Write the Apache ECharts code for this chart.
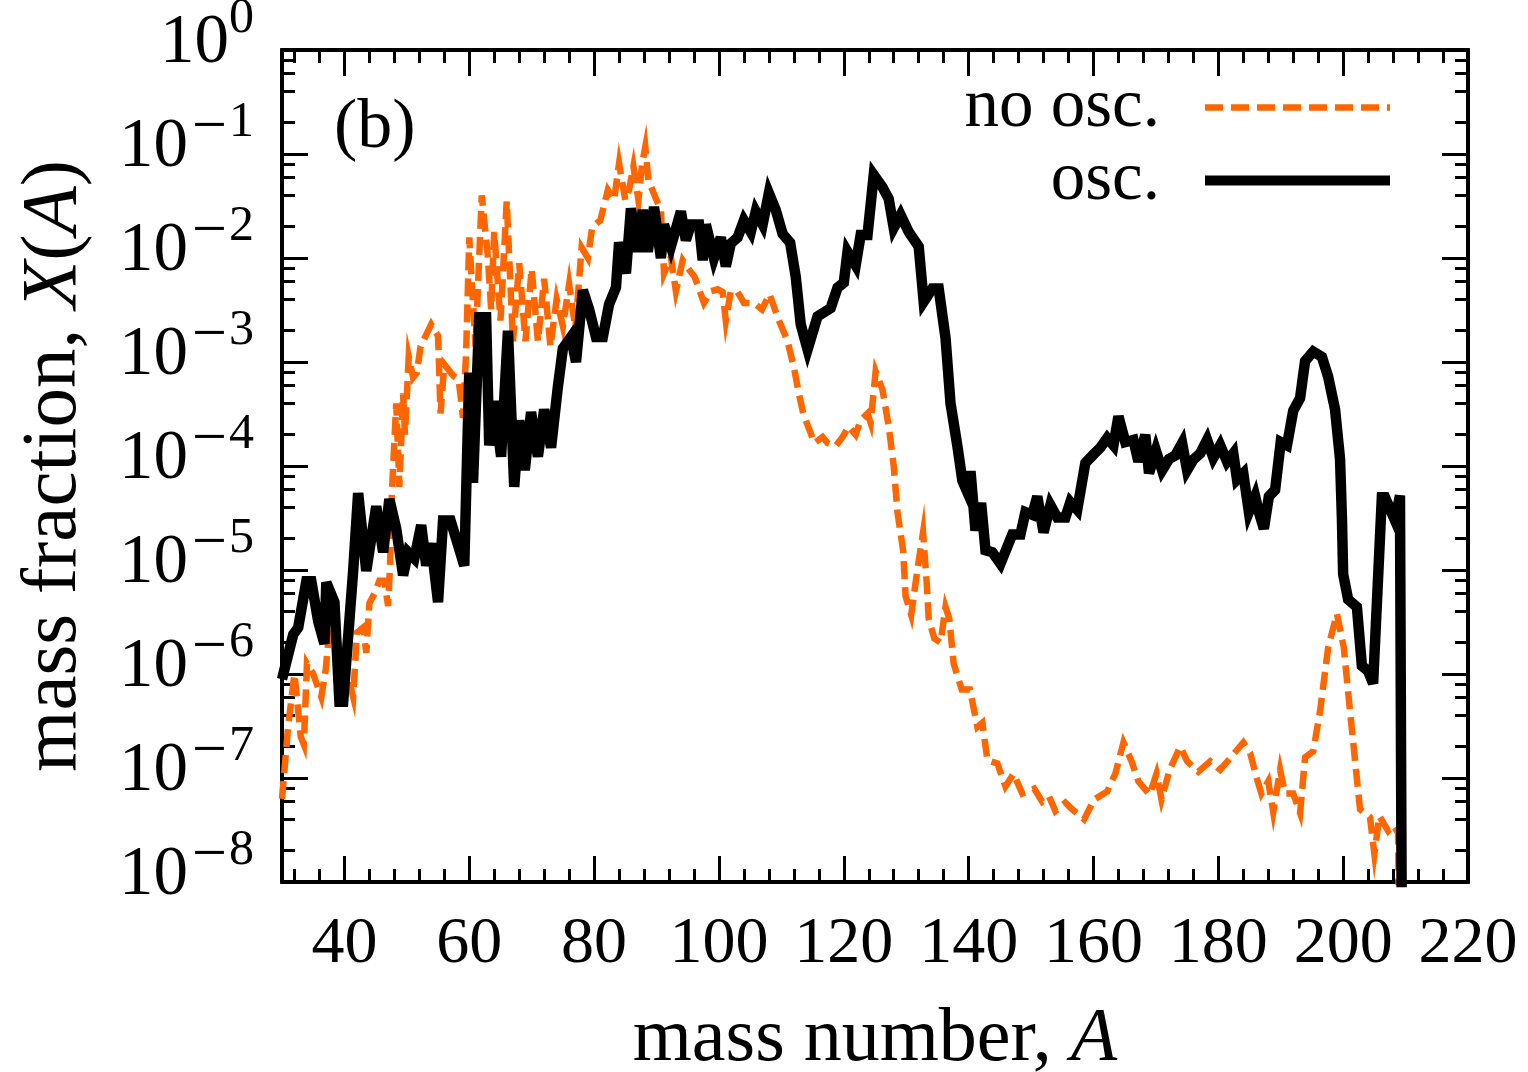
<!DOCTYPE html>
<head>
    <meta charset="utf-8">
    <title>mass fraction</title>
</head>
<body style="margin:0">
    <div id="main" style="width:1528px;height:1072px"></div>
    <script src="https://cdn.jsdelivr.net/npm/echarts@6/dist/echarts.min.js"></script>
    <script type="text/javascript">

        // [mass number A, mass fraction X(A)]
        const NO_OSC = [
            [30, 6.3e-8], [31, 3.2e-7], [32, 1.0e-6], [33, 2.5e-7], [33.5, 2.1e-7], [34, 1.26e-6], [35, 1.0e-6],
            [36.3, 6.0e-7], [37, 1.1e-6], [38, 5.0e-6], [39.5, 1.26e-6], [40.6, 9.3e-7], [41.4, 6.0e-7],
            [42, 2.5e-6], [43, 2.8e-6], [43.5, 1.6e-6], [44, 4.8e-6], [44.8, 5.9e-6], [45.6, 7.9e-6],
            [46.4, 7.9e-6], [47, 4.5e-6], [47.3, 1.07e-5], [47.6, 5.5e-5], [48.3, 4.0e-4], [48.8, 6.3e-5],
            [49.4, 5.0e-4], [49.7, 2.0e-4], [50.3, 1.12e-3], [51, 7.1e-4], [51.6, 7.9e-4], [52.2, 1.41e-3],
            [53.9, 2.3e-3], [55, 1.78e-3], [55.4, 3.2e-4], [56, 9.5e-4], [57.4, 7.4e-4], [58.3, 6.8e-4],
            [59, 2.9e-4], [59.5, 1.26e-3], [60, 1.58e-2], [61, 1.41e-3], [62, 4.0e-2], [63, 1.0e-2],
            [63.5, 3.2e-3], [64, 1.78e-2], [65, 2.5e-3], [66, 3.5e-2], [67, 1.58e-3], [68, 8.9e-3],
            [69, 1.58e-3], [70, 7.9e-3], [71, 1.58e-3], [72, 6.3e-3], [73, 1.41e-3], [74, 4.0e-3],
            [75, 2.2e-3], [76, 5.6e-3], [77, 2.1e-3], [78, 1.26e-2], [79, 1.0e-2], [79.7, 2.0e-2],
            [81, 2.3e-2], [82.2, 4.5e-2], [83.2, 3.6e-2], [84, 8.1e-2], [85, 3.6e-2], [85.6, 4.5e-2],
            [86.3, 7.6e-2], [87.1, 3.6e-2], [87.7, 8.1e-2], [88.2, 1.17e-1], [88.7, 5.6e-2], [90, 3.6e-2],
            [90.7, 2.9e-2], [91.2, 7.1e-3], [92.3, 1.02e-2], [93.1, 4.8e-3], [94.2, 9.5e-3], [95.3, 7.6e-3],
            [96.1, 6.6e-3], [97.6, 3.7e-3], [98.7, 4.8e-3], [99.8, 5.0e-3], [100.6, 4.7e-3], [101.1, 2.5e-3],
            [101.9, 4.8e-3], [103, 4.7e-3], [104, 3.7e-3], [105.6, 3.7e-3], [106.9, 3.2e-3], [108.1, 4.5e-3],
            [109.5, 2.6e-3], [111, 1.58e-3], [112, 8.9e-4], [112.8, 5.0e-4], [113.5, 3.2e-4], [115.3, 1.66e-4],
            [116.6, 1.9e-4], [117.4, 1.66e-4], [118.7, 1.55e-4], [119.8, 1.9e-4], [120.8, 2.4e-4],
            [121.9, 2.0e-4], [122.7, 2.75e-4], [123.8, 3.2e-4], [124.3, 2.6e-4], [125.1, 8.1e-4],
            [126.2, 5.4e-4], [127.2, 2.4e-4], [128, 1.0e-4], [128.6, 3.6e-5], [129.5, 1.55e-5],
            [129.9, 5.6e-6], [130.8, 3.7e-6], [131.8, 1.02e-5], [132.7, 2.3e-5], [133.3, 7.2e-6],
            [133.6, 3.4e-6], [134.5, 2.2e-6], [135.5, 2.0e-6], [136.3, 4.4e-6], [136.9, 3.4e-6],
            [137.6, 1.26e-6], [138.9, 7.1e-7], [140.2, 7.1e-7], [141.4, 3.1e-7], [142.2, 3.4e-7],
            [143, 1.48e-7], [144.6, 1.38e-7], [145.9, 8.3e-8], [147.2, 1.1e-7], [148.6, 7.1e-8],
            [150.5, 7.9e-8], [151.8, 5.9e-8], [152.9, 6.6e-8], [153.9, 4.8e-8], [155.5, 5.8e-8],
            [156.6, 5.0e-8], [158.5, 4.0e-8], [160.1, 6.2e-8], [162.2, 7.4e-8], [163.5, 1.1e-7],
            [164.8, 2.2e-7], [166.1, 1.45e-7], [167.2, 9.3e-8], [169, 6.9e-8], [170.1, 1.1e-7],
            [170.9, 6.2e-8], [172.2, 1.2e-7], [173.9, 2.0e-7], [175, 1.45e-7], [176.8, 1.15e-7],
            [178.7, 1.45e-7], [180.3, 1.2e-7], [181.9, 1.55e-7], [184, 2.2e-7], [185.1, 1.74e-7],
            [186.1, 1.02e-7], [186.9, 7.1e-8], [188, 9.3e-8], [188.8, 4.7e-8], [189.9, 1.2e-7],
            [190.7, 7.1e-8], [192, 7.1e-8], [193.1, 4.6e-8], [193.9, 1.58e-7], [195.2, 1.8e-7],
            [196.3, 4.4e-7], [197.6, 1.8e-6], [199, 3.8e-6], [200.1, 1.8e-6], [201.1, 4.4e-7],
            [202.7, 5.0e-8], [204.3, 4.2e-8], [205, 1.86e-8], [205.8, 4.3e-8], [207.2, 3.1e-8],
            [208, 3.5e-8], [208.8, 3.0e-8], [209.2, 1e-10]
        ];

        const OSC = [
            [30, 8.9e-7], [31.8, 2.4e-6], [32.6, 2.8e-6], [33.9, 7.8e-6], [34.7, 7.8e-6], [35.8, 3.2e-6],
            [36.8, 1.95e-6], [37.1, 7.6e-6], [38.4, 4.9e-6], [39.2, 5.4e-7], [39.8, 5.4e-7], [41.4, 9.8e-6],
            [42.2, 5.5e-5], [43.5, 9.8e-6], [45.1, 4.1e-5], [46.2, 1.48e-5], [47.2, 4.8e-5], [48.3, 2.5e-5],
            [49.4, 8.9e-6], [50.2, 1.48e-5], [51.2, 1.29e-5], [52.3, 2.7e-5], [53.1, 1.1e-5], [53.9, 1.8e-5],
            [55, 4.9e-6], [55.8, 3.0e-5], [57, 3.0e-5], [58.2, 1.74e-5], [59.2, 1.1e-5], [60, 7.9e-4],
            [60.6, 6.9e-5], [61.6, 2.7e-3], [62.7, 2.7e-3], [63.2, 1.58e-4], [64, 4.2e-4], [65.1, 1.23e-4],
            [66.2, 2.0e-3], [67.2, 6.3e-5], [68, 2.75e-4], [68.9, 9.1e-5], [69.9, 3.3e-4], [71, 1.23e-4],
            [72, 3.5e-4], [73.1, 1.5e-4], [74.2, 5.8e-4], [75, 1.35e-3], [76.3, 1.74e-3], [77.1, 1.0e-3],
            [78.2, 4.9e-3], [79.2, 3.2e-3], [80.3, 1.74e-3], [81.4, 1.74e-3], [82.4, 3.6e-3], [83.5, 5.2e-3],
            [84, 1.41e-2], [85.1, 7.1e-3], [85.9, 3.0e-2], [87, 1.15e-2], [87.8, 2.9e-2], [88.6, 1.15e-2],
            [89.6, 3.1e-2], [90.7, 1.0e-2], [91.2, 2.1e-2], [92.3, 1.29e-2], [93.9, 2.8e-2], [94.7, 1.48e-2],
            [95.5, 2.1e-2], [96.8, 2.1e-2], [97.4, 9.5e-3], [97.9, 2.1e-2], [99.2, 1.0e-2], [100.3, 1.58e-2],
            [101.1, 8.3e-3], [101.9, 1.38e-2], [103, 1.58e-2], [104, 2.3e-2], [105.1, 1.78e-2],
            [105.9, 2.8e-2], [107, 2.1e-2], [108, 4.2e-2], [109.1, 2.9e-2], [110.2, 1.7e-2], [111.4, 1.41e-2],
            [112.3, 6.6e-3], [113.1, 2.3e-3], [114.2, 1.32e-3], [115.8, 2.75e-3], [117.9, 3.3e-3],
            [119, 5.2e-3], [120, 5.8e-3], [120.6, 1.15e-2], [121.9, 8.5e-3], [122.7, 1.66e-2],
            [123.8, 1.66e-2], [124.8, 6.3e-2], [126.2, 4.8e-2], [127.2, 3.7e-2], [128, 1.95e-2],
            [129.1, 2.6e-2], [130.4, 1.78e-2], [132, 1.29e-2], [132.8, 3.8e-3], [134.2, 5.1e-3],
            [135.2, 5.1e-3], [136.3, 1.7e-3], [137.1, 4.0e-4], [138.2, 1.55e-4], [139, 7.2e-5],
            [139.8, 5.6e-5], [140.3, 8.9e-5], [141.1, 2.4e-5], [142, 4.4e-5], [142.7, 1.55e-5],
            [143.8, 1.48e-5], [145.1, 1.15e-5], [147, 2.2e-5], [148.3, 2.2e-5], [149.1, 3.6e-5],
            [150.2, 3.4e-5], [151, 5.1e-5], [152, 2.3e-5], [153.1, 4.2e-5], [154.2, 3.2e-5], [155.5, 3.2e-5],
            [156.3, 4.5e-5], [157.4, 3.8e-5], [158.7, 1.07e-4], [160, 1.29e-4], [161.1, 1.5e-4],
            [162.2, 1.86e-4], [163.2, 1.58e-4], [164, 3.0e-4], [165.1, 1.7e-4], [166.4, 1.78e-4],
            [167.2, 1.1e-4], [168.3, 2.0e-4], [168.9, 8.5e-5], [170, 1.41e-4], [171, 9.1e-5],
            [172.1, 1.17e-4], [173.1, 1.26e-4], [174.2, 1.66e-4], [175, 9.1e-5], [176, 1.15e-4],
            [177.1, 1.32e-4], [178.2, 1.78e-4], [179.2, 1.2e-4], [180.3, 1.58e-4], [181.4, 1.1e-4],
            [182.4, 1.32e-4], [183, 7.4e-5], [184, 8.5e-5], [184.9, 3.6e-5], [185.9, 5.1e-5],
            [186.5, 3.6e-5], [187.3, 2.5e-5], [188.1, 5.1e-5], [189.1, 5.9e-5], [190, 1.7e-4],
            [191, 1.58e-4], [192, 3.4e-4], [193.1, 4.5e-4], [193.9, 1.02e-3], [195.2, 1.26e-3],
            [196.6, 1.12e-3], [197.6, 7.2e-4], [198.7, 3.5e-4], [199.5, 1.17e-4], [199.8, 3.2e-5],
            [200, 9.1e-6], [200.8, 5.2e-6], [202.2, 4.4e-6], [203, 1.2e-6], [204, 1.07e-6], [204.8, 8.1e-7],
            [206.2, 5.0e-5], [206.7, 5.0e-5], [208.3, 3.0e-5], [209.1, 5.2e-5], [209.5, 1e-10]
        ];

        const X_MAJOR = [40, 60, 80, 100, 120, 140, 160, 180, 200, 220];
        const X_MINOR = [32, 36, 44, 48, 52, 56, 64, 68, 72, 76, 84, 88, 92, 96, 104, 108, 112, 116,
            124, 128, 132, 136, 144, 148, 152, 156, 164, 168, 172, 176, 184, 188, 192, 196, 204, 208, 212, 216];
        const Y_MAJOR = [1e-8, 1e-7, 1e-6, 1e-5, 1e-4, 1e-3, 1e-2, 1e-1, 1];
        const Y_MINOR = [
            2e-8, 4e-8, 6e-8, 8e-8, 2e-7, 4e-7, 6e-7, 8e-7, 2e-6, 4e-6, 6e-6, 8e-6,
            2e-5, 4e-5, 6e-5, 8e-5, 2e-4, 4e-4, 6e-4, 8e-4, 2e-3, 4e-3, 6e-3, 8e-3,
            2e-2, 4e-2, 6e-2, 8e-2, 0.2, 0.4, 0.6, 0.8
        ];

        const FONT = 'Liberation Serif';
        const LINE = {color: '#000', width: 4};
        const ORANGE = '#ff6600';

        function powLabel(v) {
            let e = Math.round(Math.log10(v));
            return e === 0 ? '{b|10}{e|0}' : '{b|10}{m|\u2212}{e|' + (-e) + '}';
        }

        function xAxis(pos, ticks, len, labels) {
            return {
                type: 'value', min: 30, max: 220, position: pos,
                axisLine: {show: true, onZero: false, lineStyle: LINE},
                axisTick: {show: true, inside: true, length: len, customValues: ticks,
                    lineStyle: {color: '#000', width: 3}},
                axisLabel: labels ? {
                    show: true, customValues: ticks, margin: 30,
                    color: '#000', fontFamily: FONT, fontSize: 66
                } : {show: false},
                splitLine: {show: false}
            };
        }

        function yAxis(pos, ticks, len, labels) {
            return {
                type: 'log', logBase: 10, min: 1e-8, max: 1, position: pos,
                axisLine: {show: true, onZero: false, lineStyle: LINE},
                axisTick: {show: true, inside: true, length: len, customValues: ticks,
                    lineStyle: {color: '#000', width: 3}},
                axisLabel: labels ? {
                    show: true, customValues: ticks, margin: 28,
                    padding: [0, 0, 12, 0],
                    formatter: powLabel,
                    rich: {
                        b: {color: '#000', fontFamily: FONT, fontSize: 69, lineHeight: 100},
                        m: {color: '#000', fontFamily: FONT, fontSize: 62, lineHeight: 44, verticalAlign: 'top',
                            padding: [0, 2, 0, 4]},
                        e: {color: '#000', fontFamily: FONT, fontSize: 50, lineHeight: 44, verticalAlign: 'top'}
                    }
                } : {show: false},
                splitLine: {show: false},
                minorTick: {show: false}
            };
        }

        let myChart = echarts.init(document.getElementById('main'));

        let xs = [
            xAxis('bottom', X_MAJOR, 26, true),
            xAxis('bottom', X_MINOR, 13, false),
            xAxis('top', X_MAJOR, 26, false),
            xAxis('top', X_MINOR, 13, false)
        ];
        xs[0].name = '{n|mass number, }{i|A}';
        xs[0].nameLocation = 'middle';
        xs[0].nameGap = 120;
        xs[0].nameTextStyle = {
            rich: {
                n: {color: '#000', fontFamily: FONT, fontSize: 76},
                i: {color: '#000', fontFamily: FONT, fontSize: 76, fontStyle: 'italic'}
            }
        };

        let ys = [
            yAxis('left', Y_MAJOR, 26, true),
            yAxis('left', Y_MINOR, 13, false),
            yAxis('right', Y_MAJOR, 26, false),
            yAxis('right', Y_MINOR, 13, false)
        ];
        ys[0].name = '{n|mass fraction, }{i|X}{n|(}{i|A}{n|)}';
        ys[0].nameLocation = 'middle';
        ys[0].nameGap = 188;
        ys[0].nameRotate = 90;
        ys[0].nameTextStyle = {
            rich: {
                n: {color: '#000', fontFamily: FONT, fontSize: 79},
                i: {color: '#000', fontFamily: FONT, fontSize: 79, fontStyle: 'italic'}
            }
        };

        let option = {
            backgroundColor: '#fff',
            animation: false,
            grid: {left: 282, right: 60, top: 50, bottom: 190, containLabel: false, outerBoundsMode: 'none'},
            graphic: [{
                type: 'text', left: 334, top: 94,
                style: {text: '(b)', fill: '#000', font: '70px "Liberation Serif"'}
            }],
            legend: {
                orient: 'vertical', right: 128, top: 68, align: 'right',
                itemWidth: 185, itemHeight: 12, itemGap: 4,
                textStyle: {color: '#000', fontFamily: FONT, fontSize: 69, padding: [0, 40, 0, 0]},
                data: [
                    {name: 'no osc.', itemStyle: {color: 'rgba(0,0,0,0)', borderWidth: 0},
                        lineStyle: {color: ORANGE, width: 6.5, type: [18, 8]}},
                    {name: 'osc.', itemStyle: {color: 'rgba(0,0,0,0)', borderWidth: 0},
                        lineStyle: {color: '#000', width: 10, type: 'solid'}}
                ]
            },
            xAxis: xs,
            yAxis: ys,
            series: [
                {
                    name: 'no osc.', type: 'line', data: NO_OSC, showSymbol: false, symbol: 'none',
                    xAxisIndex: 0, yAxisIndex: 0, clip: true,
                    lineStyle: {color: ORANGE, width: 6.5, type: [18, 8], join: 'miter'},
                    itemStyle: {color: ORANGE}
                },
                {
                    name: 'osc.', type: 'line', data: OSC, showSymbol: false, symbol: 'none',
                    xAxisIndex: 0, yAxisIndex: 0, clip: true,
                    lineStyle: {color: '#000', width: 10.5, join: 'miter', miterLimit: 4},
                    itemStyle: {color: '#000'}
                }
            ]
        };
        myChart.setOption(option);

    </script>
</body>
